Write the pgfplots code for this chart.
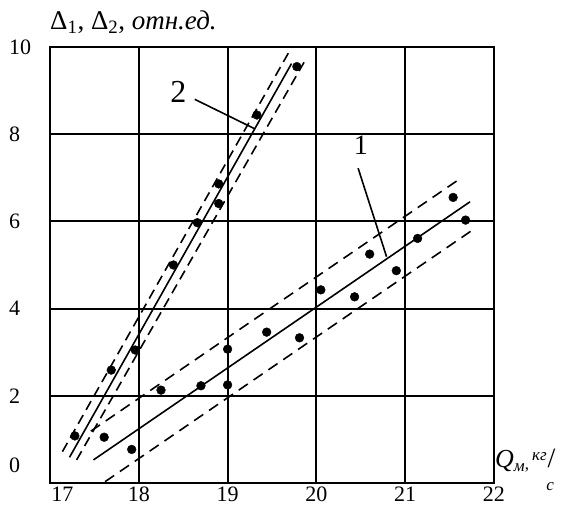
\documentclass[border=0pt]{standalone}
\usepackage{fontspec}
\setmainfont{Liberation Serif}
\usepackage{pgfplots}
\pgfplotsset{compat=1.18}
\begin{document}
\begin{tikzpicture}
\begin{axis}[
  scale only axis, width=444pt, height=436pt,
  xmin=17, xmax=22, ymin=0, ymax=10,
  axis line style={line width=2pt},
  xtick={17.14,18,19,20,21,22}, xticklabels={17,18,19,20,21,22},
  ytick={0.4,2,4,6,8,10}, yticklabels={0,2,4,6,8,10},
  major tick length=0pt,
  extra x ticks={18,19,20,21}, extra y ticks={2,4,6,8},
  extra x tick labels={}, extra y tick labels={},
  extra tick style={grid=major, major tick length=0pt},
  major grid style={black, line width=2.1pt},
  tick label style={font=\fontsize{22}{22}\selectfont},
  yticklabel style={anchor=west, xshift=-44.5pt},
  clip=false,
  /pgf/number format/assume math mode=true,
]
\coordinate (O) at (rel axis cs:0,0);
% series 1 band
\addplot[black, line width=1.6pt] coordinates {(17.49,0.53) (21.73,6.45)};
\addplot[black, line width=1.6pt, dash pattern=on 11pt off 7pt] coordinates {(17.46,1.19) (21.64,7.01)};
\addplot[black, line width=1.6pt, dash pattern=on 11pt off 7pt] coordinates {(17.62,0.03) (21.80,5.86)};
% series 2 band
\addplot[black, line width=1.6pt] coordinates {(17.22,0.59) (19.72,9.62)};
\addplot[black, line width=1.6pt, dash pattern=on 10pt off 6pt] coordinates {(17.14,0.72) (19.69,9.88)};
\addplot[black, line width=1.6pt, dash pattern=on 10pt off 6pt] coordinates {(17.30,0.53) (19.87,9.68)};
% points series 1
\addplot[only marks, mark=*, mark size=4.4pt, black] coordinates {
(17.61,1.05) (17.92,0.77) (18.25,2.13) (18.70,2.23) (19.00,2.25) (19.00,3.07)
(19.44,3.46) (19.81,3.33) (20.05,4.43) (20.43,4.27) (20.60,5.25) (20.90,4.87)
(21.14,5.61) (21.54,6.55) (21.68,6.03)};
% points series 2
\addplot[only marks, mark=*, mark size=4.4pt, black] coordinates {
(17.28,1.08) (17.69,2.59) (17.96,3.05) (18.39,5.00) (18.66,5.97) (18.90,6.41)
(18.90,6.86) (19.33,8.44) (19.78,9.55)};
% leader lines
\addplot[black, line width=1.6pt] coordinates {(18.63,8.80) (19.30,8.13)};
\addplot[black, line width=1.6pt] coordinates {(20.47,7.22) (20.79,5.19)};
\node[font=\fontsize{32}{32}\selectfont, inner sep=0pt] at (axis cs:18.445,8.97) {2};
\node[font=\fontsize{28}{28}\selectfont, inner sep=0pt] at (axis cs:20.50,7.75) {1};
% axis labels
\node[anchor=base west, inner sep=0pt, yshift=17pt, font=\fontsize{27}{27}\selectfont] at (rel axis cs:0,1)
  {Δ\textsubscript{1}, Δ\textsubscript{2}, \textit{отн.ед.}};
\node[anchor=base west, inner sep=0pt, xshift=1pt, yshift=15pt] at (rel axis cs:1,0)
  {\fontsize{26}{26}\selectfont\textit{Q}\raisebox{-4pt}{\fontsize{17}{17}\selectfont\textit{м}}\fontsize{17}{17}\selectfont\raisebox{-2pt}{,}\kern3pt\raisebox{7pt}{\textit{кг}}\kern1pt\raisebox{0pt}{\fontsize{28}{28}\selectfont/}\kern-9pt\raisebox{-23pt}{\textit{с}}};
\end{axis}
\pgfresetboundingbox
\path[use as bounding box] ([shift={(-50pt,-23pt)}]O) rectangle ([shift={(513pt,483pt)}]O);
\end{tikzpicture}
\end{document}
